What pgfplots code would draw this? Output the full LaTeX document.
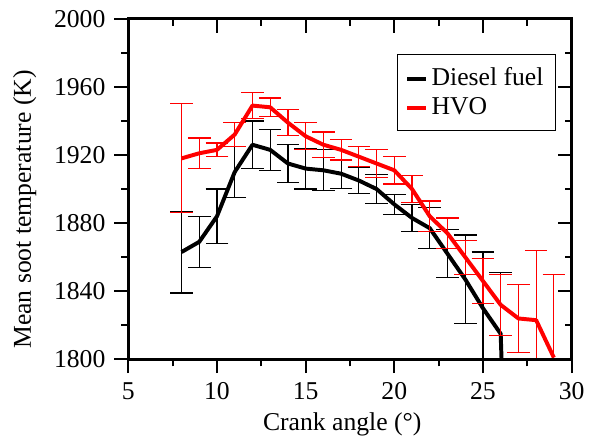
\documentclass[border=0pt]{standalone}
\usepackage{fontspec}
\setmainfont{Liberation Serif}
\usepackage{pgfplots}
\usepackage{pgfplotstable}
\pgfplotsset{compat=1.18}

% crank angle, mean soot temperature, error
\pgfplotstableread{
x  y     e
8  1863  24
9  1869  15
10 1884  16
11 1910  15
12 1926  14
13 1923  12
14 1915  11
15 1912  12
16 1911  12
17 1909  8.5
18 1905  7.5
19 1900  8.5
20 1891  6
21 1883  8
22 1877  12
23 1862  14
24 1847  26
25 1830  33
26 1815  36
27 1500  0
}\diesel

\pgfplotstableread{
x  y     e
8  1918  32
9  1921  9
10 1923  4
11 1932  7
12 1949  7.5
13 1948  5.5
14 1939  7.5
15 1931  8
16 1926  7.5
17 1923  6
18 1919  6
19 1915  8
20 1911  8
21 1900  8
22 1884  9
23 1874  9
24 1860  10
25 1846  13
26 1832  18
27 1824  20
28 1823  41
29 1801  49
}\hvo

\begin{document}
\begin{tikzpicture}
\pgfplotsset{
  frame/.style={
    scale only axis, width=172.7pt, height=132.7pt,
    xmin=5, xmax=30, ymin=1800, ymax=2000,
    xtick={5,10,...,30}, ytick={1800,1840,...,2000},
    minor x tick num=1, minor y tick num=1,
    major tick length=5.4pt, minor tick length=2.7pt,
    every tick/.style={black, line width=0.77pt},
    axis line style={line width=1.15pt},
  }
}
\begin{axis}[frame,
    tick align=outside, xtick pos=left, ytick pos=left,
    xticklabels={5,10,15,20,25,30},
    yticklabels={1800,1840,1880,1920,1960,2000},
    xlabel={Crank angle (°)},
    ylabel={Mean soot temperature (K)},
    xlabel style={at={(axis description cs:0.4826,-0.2078)}, anchor=base},
    ylabel style={at={(axis description cs:-0.234,0.44)}, anchor=center},
    legend style={at={(axis description cs:0.9644,0.8957)}, anchor=north east,
      draw=black, line width=0.4pt, inner xsep=3.1pt, inner ysep=3.5pt,
      nodes={inner sep=1.5pt}},
    legend cell align=left,
    legend image code/.code={\draw[#1] (0pt,0pt) -- (7.3pt,0pt);},
]
\addplot[black, line width=1.54pt, line join=round, forget plot,
  error bars/.cd, y dir=both, y explicit,
  error bar style={line width=0.46pt, black},
  error mark options={rotate=90, mark size=4.4pt, line width=0.46pt, black}]
  table[x=x, y=y, y error=e] {\diesel};
\addplot[red, line width=1.54pt, line join=round, forget plot,
  error bars/.cd, y dir=both, y explicit,
  error bar style={line width=0.46pt, red},
  error mark options={rotate=90, mark size=4.4pt, line width=0.46pt, red}]
  table[x=x, y=y, y error=e] {\hvo};
\addlegendimage{black, line width=1.54pt}
\addlegendentry{Diesel fuel}
\addlegendimage{red, line width=1.54pt}
\addlegendentry{HVO}
\end{axis}
\begin{axis}[frame,
    tick align=inside, xtick pos=right, ytick pos=right,
    xticklabels={}, yticklabels={},
]
\end{axis}
\path (current axis.south west) ++(-50pt,-31.15pt);
\path (current axis.north east) ++(5.4pt,7.3pt);
\end{tikzpicture}
\end{document}
